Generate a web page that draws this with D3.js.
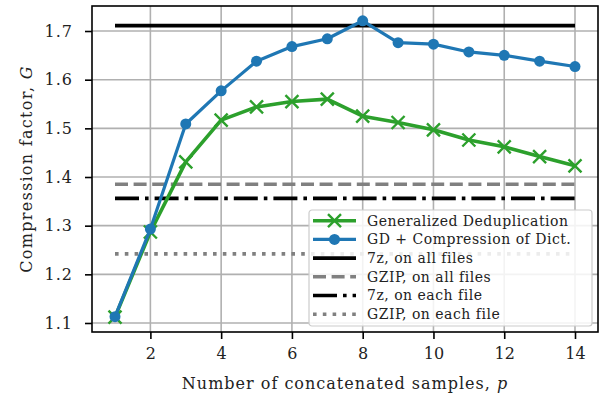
<!DOCTYPE html>
<html>
<head>
<meta charset="utf-8">
<script src="https://cdn.jsdelivr.net/npm/d3@7"></script>
<style>
  body { margin: 0; background: #fff; }
</style>
</head>
<body>
<div id="chart"></div>
<script>
const samples = [1, 2, 3, 4, 5, 6, 7, 8, 9, 10, 11, 12, 13, 14];
const gdValues = [1.112, 1.287, 1.431, 1.517, 1.544, 1.555, 1.560, 1.525, 1.512, 1.497, 1.476, 1.462, 1.442, 1.423];
const gdDictValues = [1.113, 1.293, 1.509, 1.577, 1.638, 1.668, 1.684, 1.721, 1.676, 1.673, 1.657, 1.650, 1.638, 1.627];
const refNames = ["7z, on all files", "GZIP, on all files", "7z, on each file", "GZIP, on each file"];
const refValues = [1.711, 1.385, 1.356, 1.242];
const xTicks = [2, 4, 6, 8, 10, 12, 14];
const yTicks = [1.1, 1.2, 1.3, 1.4, 1.5, 1.6, 1.7];

const FONT = "DejaVu Serif";
const width = 605, height = 398;
const margin = { top: 6, right: 7, bottom: 66, left: 92 };

const svg = d3.select("#chart").append("svg")
  .attr("width", width)
  .attr("height", height);

const x = d3.scaleLinear().domain([0.35, 14.65]).range([margin.left, width - margin.right]);
const y = d3.scaleLinear().domain([1.0815, 1.7514]).range([height - margin.bottom, margin.top]);

// grid
svg.append("g")
  .selectAll("line")
  .data(xTicks)
  .enter().append("line")
  .attr("x1", d => x(d)).attr("x2", d => x(d))
  .attr("y1", margin.top).attr("y2", height - margin.bottom)
  .attr("stroke", "#b0b0b0").attr("stroke-width", 1.6);
svg.append("g")
  .selectAll("line")
  .data(yTicks)
  .enter().append("line")
  .attr("x1", margin.left).attr("x2", width - margin.right)
  .attr("y1", d => y(d)).attr("y2", d => y(d))
  .attr("stroke", "#b0b0b0").attr("stroke-width", 1.6);

// reference lines
const refStyles = [
  { color: "#000", dash: null },
  { color: "#808080", dash: "13,5.6" },
  { color: "#000", dash: "24,6,3.6,6" },
  { color: "#808080", dash: "3.6,6.2" }
];
refValues.forEach((v, i) => {
  svg.append("line")
    .attr("x1", x(samples[0])).attr("x2", x(samples[samples.length - 1]))
    .attr("y1", y(v)).attr("y2", y(v))
    .attr("stroke", refStyles[i].color)
    .attr("stroke-width", 3.6)
    .attr("stroke-dasharray", refStyles[i].dash);
});

const line = d3.line().x(d => x(d[0])).y(d => y(d[1]));
const gd = samples.map((s, i) => [s, gdValues[i]]);
const gdDict = samples.map((s, i) => [s, gdDictValues[i]]);

// Generalized Deduplication
svg.append("path").datum(gd)
  .attr("fill", "none").attr("stroke", "#2ca02c").attr("stroke-width", 3.6)
  .attr("stroke-linejoin", "round")
  .attr("d", line);
const xMark = "M-6.5,-6.5L6.5,6.5M-6.5,6.5L6.5,-6.5";
svg.append("g").selectAll("path")
  .data(gd).enter().append("path")
  .attr("transform", d => `translate(${x(d[0])},${y(d[1])})`)
  .attr("d", xMark)
  .attr("stroke", "#2ca02c").attr("stroke-width", 2.4);

// GD + compression of dict
svg.append("path").datum(gdDict)
  .attr("fill", "none").attr("stroke", "#1f77b4").attr("stroke-width", 3.2)
  .attr("stroke-linejoin", "round")
  .attr("d", line);
svg.append("g").selectAll("circle")
  .data(gdDict).enter().append("circle")
  .attr("cx", d => x(d[0])).attr("cy", d => y(d[1]))
  .attr("r", 5.5).attr("fill", "#1f77b4");

// frame
svg.append("rect")
  .attr("x", margin.left).attr("y", margin.top)
  .attr("width", width - margin.left - margin.right)
  .attr("height", height - margin.top - margin.bottom)
  .attr("fill", "none").attr("stroke", "#000").attr("stroke-width", 1.6);

// axes
const xAxis = svg.append("g")
  .attr("transform", `translate(0,${height - margin.bottom})`)
  .call(d3.axisBottom(x).tickValues(xTicks).tickSize(7).tickPadding(9));
const yAxis = svg.append("g")
  .attr("transform", `translate(${margin.left},0)`)
  .call(d3.axisLeft(y).tickValues(yTicks).tickSize(7).tickPadding(12).tickFormat(d3.format(".1f")));
[xAxis, yAxis].forEach(a => {
  a.select(".domain").remove();
  a.selectAll(".tick line").attr("stroke", "#000").attr("stroke-width", 1.6);
  a.selectAll(".tick text").style("font-family", FONT).style("font-size", "16px").attr("fill", "#222");
});
yAxis.selectAll(".tick text").style("letter-spacing", "1px");

// axis labels
const xl = svg.append("text")
  .attr("x", (margin.left + width - margin.right) / 2).attr("y", 389)
  .attr("text-anchor", "middle")
  .style("font-family", FONT).style("font-size", "16px").style("letter-spacing", "1px").attr("fill", "#222");
xl.append("tspan").text("Number of concatenated samples, ");
xl.append("tspan").attr("font-style", "italic").text("p");

const yl = svg.append("text")
  .attr("transform", `translate(32,${(margin.top + height - margin.bottom) / 2}) rotate(-90)`)
  .attr("text-anchor", "middle")
  .style("font-family", FONT).style("font-size", "16px").style("letter-spacing", "1.3px").attr("fill", "#222");
yl.append("tspan").text("Compression factor, ");
yl.append("tspan").attr("font-style", "italic").text("G");

// legend
const legendNames = ["Generalized Deduplication", "GD + Compression of Dict."].concat(refNames);
const lg = svg.append("g").attr("transform", "translate(309,210)");
lg.append("rect")
  .attr("width", 283).attr("height", 116).attr("rx", 3)
  .attr("fill", "#fff").attr("fill-opacity", 0.85)
  .attr("stroke", "#cccccc").attr("stroke-width", 1.2);
legendNames.forEach((name, i) => {
  const cy = 10.7 + i * 18.7;
  const row = lg.append("g").attr("transform", `translate(0,${cy})`);
  let color, dash, sw = 3.6;
  if (i === 0) { color = "#2ca02c"; dash = null; }
  else if (i === 1) { color = "#1f77b4"; dash = null; sw = 3.2; }
  else { color = refStyles[i - 2].color; dash = refStyles[i - 2].dash; }
  row.append("line")
    .attr("x1", 4).attr("x2", 47)
    .attr("stroke", color).attr("stroke-width", sw)
    .attr("stroke-dasharray", dash);
  if (i === 0) row.append("path").attr("transform", "translate(25.5,0)").attr("d", xMark)
    .attr("stroke", color).attr("stroke-width", 2.4);
  if (i === 1) row.append("circle").attr("cx", 25.5).attr("r", 5.5).attr("fill", color);
  row.append("text")
    .attr("x", 58).attr("dy", "0.35em")
    .style("font-family", FONT).style("font-size", "14px").style("letter-spacing", "0.5px").attr("fill", "#222")
    .text(name);
});
</script>
</body>
</html>
